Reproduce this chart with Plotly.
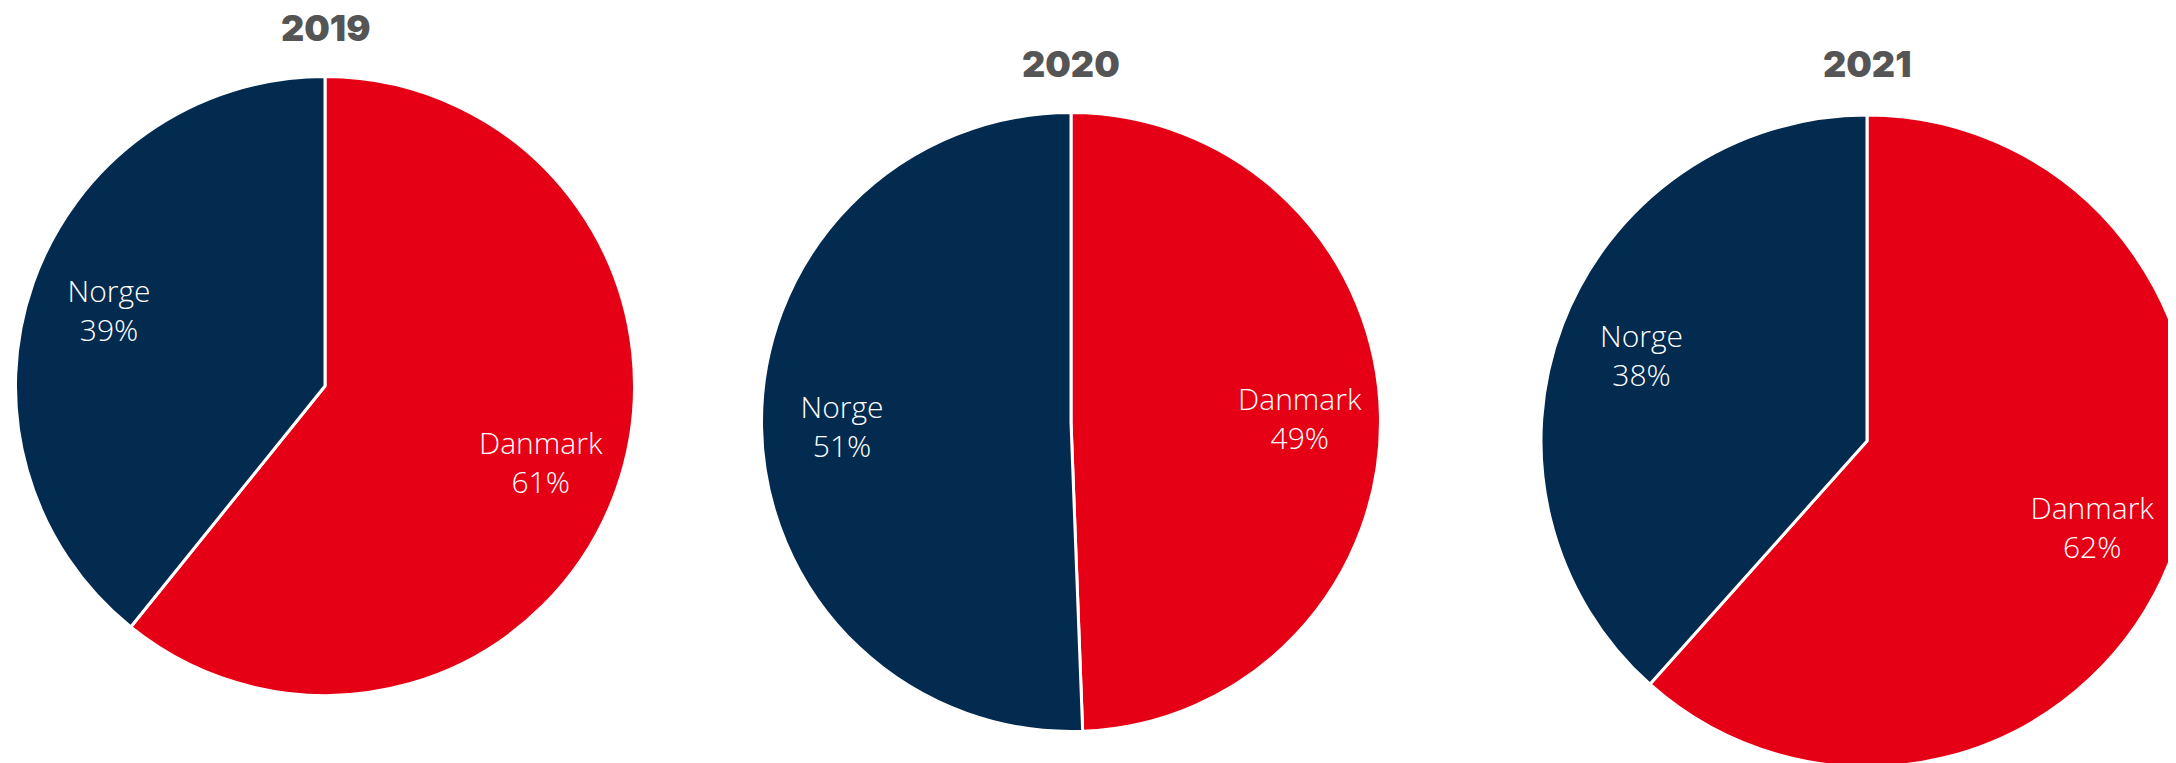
import plotly.graph_objects as go

years = ["2019", "2020", "2021"]
labels = ["Danmark", "Norge"]
share_2019 = [60.8, 39.2]
share_2020 = [49.4, 50.6]
share_2021 = [61.6, 38.4]
shares = [share_2019, share_2020, share_2021]

colors = ["#E50015", "#032B50"]

W, H = 2200, 780
# pie geometry in figure pixels: (cx, cy, r)
geom = [(317, 378, 309.5), (1063, 414, 309.5), (1859, 433, 326)]
# title centres in figure pixels
title_pos = [(317, 20), (1063, 56), (1859, 56)]

fig = go.Figure()
for yr, vals, (cx, cy, r) in zip(years, shares, geom):
    dom = dict(x=[(cx - r) / W, (cx + r) / W],
               y=[1 - (cy + r) / H, 1 - (cy - r) / H])
    # coloured slices
    fig.add_trace(go.Pie(
        labels=labels, values=vals, sort=False,
        direction="clockwise", rotation=0,
        marker=dict(colors=colors, line=dict(color="white", width=3)),
        textinfo="none", domain=dom, showlegend=False,
        hoverinfo="label+percent",
    ))
    # labels placed in the outer part of each slice
    fig.add_trace(go.Pie(
        labels=labels, values=vals, sort=False,
        direction="clockwise", rotation=0, hole=0.48,
        marker=dict(colors=["rgba(0,0,0,0)"] * 2, line=dict(width=0)),
        texttemplate="%{label}<br>%{percent:.0%}",
        textposition="inside",
        insidetextorientation="horizontal",
        textfont=dict(family="Open Sans", size=30, color="white", weight=300),
        domain=dom, showlegend=False, hoverinfo="skip",
    ))

for yr, (tx, ty) in zip(years, title_pos):
    fig.add_annotation(
        text=yr, x=tx / W, y=1 - ty / H, xref="paper", yref="paper",
        xanchor="center", yanchor="middle", showarrow=False,
        font=dict(family="Inter", size=36, color="#555555", weight=900),
    )

fig.update_layout(
    width=W, height=H,
    margin=dict(l=0, r=0, t=0, b=0),
    paper_bgcolor="white",
    plot_bgcolor="white",
)

fig.write_html("out.html")
